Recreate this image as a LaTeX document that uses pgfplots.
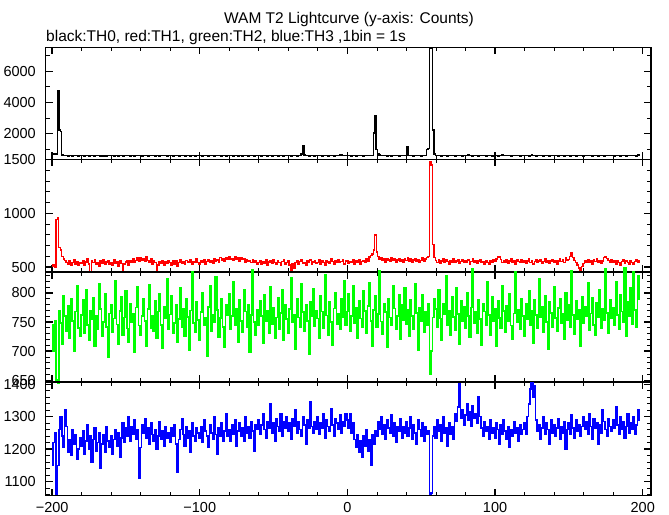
\documentclass[border=0pt]{standalone}
\usepackage{fontspec}
\setmainfont{Liberation Sans}
\usepackage{pgfplots}
\usepackage{pgfplotstable}
\pgfplotsset{compat=1.18}
\definecolor{cR}{RGB}{255,0,0}
\definecolor{cG}{RGB}{0,255,0}
\definecolor{cB}{RGB}{0,0,255}

% TH0 (black), bins -200 .. 198
\pgfplotstableread[row sep=\\, header=false]{
700\\720\\690\\705\\4750\\2250\\2150\\650\\600\\590\\595\\585\\600\\592\\588\\598\\590\\595\\585\\600\\
590\\595\\588\\600\\592\\585\\598\\590\\594\\587\\600\\592\\596\\589\\593\\560\\565\\585\\592\\596\\
590\\598\\585\\594\\600\\588\\592\\596\\585\\590\\598\\594\\610\\588\\596\\590\\585\\598\\592\\590\\
594\\588\\600\\590\\596\\585\\592\\598\\590\\594\\586\\600\\592\\588\\596\\590\\594\\598\\588\\592\\
600\\590\\585\\596\\592\\620\\588\\594\\590\\598\\585\\592\\596\\590\\588\\600\\594\\586\\592\\598\\
590\\595\\588\\600\\592\\596\\585\\590\\598\\594\\588\\592\\600\\615\\590\\585\\596\\592\\588\\594\\
598\\590\\594\\586\\600\\592\\588\\596\\590\\585\\594\\598\\590\\588\\596\\592\\600\\586\\594\\590\\
592\\598\\588\\594\\600\\590\\585\\596\\592\\588\\594\\598\\590\\586\\600\\592\\596\\588\\594\\620\\
590\\596\\588\\594\\600\\592\\586\\598\\590\\700\\1200\\640\\600\\594\\588\\596\\590\\598\\586\\594\\
600\\590\\596\\588\\594\\598\\590\\586\\592\\600\\594\\588\\596\\590\\598\\640\\630\\600\\592\\596\\
590\\594\\598\\586\\600\\592\\588\\596\\590\\594\\598\\588\\592\\600\\596\\590\\594\\610\\2050\\3150\\
1000\\700\\640\\600\\594\\590\\598\\586\\592\\596\\588\\594\\600\\590\\596\\588\\592\\598\\590\\594\\
596\\1150\\610\\592\\598\\588\\594\\600\\590\\596\\588\\592\\598\\620\\1000\\1050\\7450\\7500\\2250\\700\\
610\\596\\590\\598\\588\\594\\600\\592\\586\\596\\590\\598\\594\\588\\600\\592\\596\\590\\586\\594\\
598\\590\\640\\600\\594\\588\\596\\592\\600\\586\\594\\598\\590\\596\\588\\600\\592\\594\\586\\598\\
590\\596\\588\\594\\600\\660\\610\\592\\598\\590\\594\\588\\596\\600\\590\\594\\598\\586\\592\\596\\
600\\590\\594\\588\\596\\640\\598\\590\\586\\594\\600\\592\\596\\588\\594\\590\\598\\586\\592\\596\\
590\\594\\598\\586\\600\\592\\596\\588\\594\\590\\598\\586\\592\\600\\594\\588\\596\\590\\598\\594\\
586\\592\\596\\600\\590\\594\\588\\598\\592\\596\\586\\594\\600\\590\\588\\596\\592\\598\\590\\594\\
596\\588\\594\\600\\592\\586\\598\\590\\594\\588\\596\\600\\592\\590\\594\\598\\586\\640\\600\\
}\tabA

% TH1 (red)
\pgfplotstableread[row sep=\\, header=false]{
505\\520\\498\\940\\960\\680\\660\\600\\575\\560\\545\\530\\555\\520\\540\\565\\528\\550\\515\\545\\
535\\560\\520\\548\\575\\530\\452\\555\\540\\568\\525\\545\\505\\558\\537\\570\\522\\548\\560\\530\\
545\\520\\565\\538\\552\\510\\560\\535\\452\\528\\548\\562\\518\\555\\540\\580\\545\\560\\585\\555\\
590\\565\\575\\550\\600\\560\\545\\578\\530\\555\\540\\455\\520\\550\\538\\562\\515\\548\\535\\558\\
542\\520\\560\\530\\555\\505\\545\\568\\535\\550\\525\\560\\540\\548\\565\\530\\552\\540\\575\\545\\
530\\558\\540\\565\\525\\550\\572\\545\\560\\538\\580\\555\\565\\548\\590\\560\\575\\552\\585\\568\\
595\\570\\580\\560\\600\\575\\585\\555\\590\\568\\578\\545\\570\\555\\560\\540\\565\\548\\555\\530\\
545\\560\\525\\550\\538\\565\\520\\548\\555\\535\\570\\542\\528\\558\\545\\515\\550\\565\\530\\545\\
555\\520\\456\\530\\490\\545\\560\\525\\550\\570\\535\\545\\520\\558\\540\\565\\530\\548\\555\\538\\
545\\570\\530\\555\\540\\520\\562\\548\\535\\575\\550\\525\\558\\545\\570\\540\\552\\565\\530\\555\\
560\\535\\550\\545\\570\\530\\555\\540\\565\\525\\550\\560\\540\\575\\555\\595\\610\\620\\660\\800\\
640\\600\\570\\585\\560\\575\\545\\580\\565\\550\\590\\560\\575\\548\\565\\580\\555\\570\\545\\575\\
560\\590\\550\\575\\540\\565\\580\\555\\570\\545\\560\\585\\555\\575\\590\\600\\1480\\1450\\710\\590\\
560\\545\\570\\535\\555\\580\\540\\565\\550\\530\\560\\545\\575\\540\\555\\565\\535\\550\\570\\545\\
555\\540\\565\\530\\550\\575\\545\\560\\535\\555\\570\\540\\550\\525\\560\\545\\530\\555\\540\\565\\
550\\575\\600\\595\\570\\545\\560\\540\\565\\535\\555\\580\\545\\560\\530\\570\\550\\540\\565\\548\\
560\\535\\555\\575\\545\\560\\530\\550\\570\\540\\555\\565\\535\\550\\575\\545\\560\\538\\555\\570\\
545\\560\\530\\555\\575\\550\\565\\540\\585\\560\\570\\600\\630\\590\\560\\540\\520\\490\\452\\505\\
535\\560\\545\\570\\540\\555\\530\\565\\550\\575\\545\\560\\535\\555\\590\\600\\580\\560\\545\\565\\
540\\555\\530\\560\\545\\520\\550\\565\\535\\555\\540\\525\\560\\545\\530\\550\\565\\540\\555\\
}\tabB

% TH2 (green)
\pgfplotstableread[row sep=\\, header=false]{
745\\700\\752\\650\\645\\770\\748\\712\\795\\760\\735\\778\\722\\790\\752\\700\\768\\812\\740\\725\\
762\\788\\730\\805\\745\\718\\770\\755\\792\\708\\760\\738\\815\\772\\726\\750\\798\\741\\690\\765\\
780\\733\\756\\821\\746\\712\\769\\794\\727\\758\\803\\739\\716\\782\\750\\765\\698\\775\\811\\744\\
728\\760\\790\\752\\709\\772\\814\\740\\761\\735\\786\\722\\768\\799\\745\\705\\777\\757\\824\\738\\
763\\795\\731\\748\\780\\715\\755\\808\\742\\773\\726\\790\\759\\702\\770\\836\\748\\733\\785\\754\\
719\\767\\801\\744\\758\\692\\776\\812\\735\\763\\749\\828\\771\\724\\757\\790\\741\\707\\780\\762\\
798\\737\\760\\819\\745\\773\\716\\788\\752\\732\\805\\768\\741\\779\\699\\762\\840\\750\\727\\771\\
745\\786\\760\\713\\797\\752\\769\\731\\810\\746\\775\\722\\758\\791\\738\\766\\806\\718\\780\\755\\
730\\772\\826\\749\\763\\704\\790\\758\\741\\815\\767\\735\\779\\752\\694\\785\\760\\807\\743\\770\\
756\\722\\795\\768\\740\\832\\761\\727\\784\\750\\711\\773\\800\\746\\765\\737\\790\\758\\821\\744\\
768\\799\\735\\760\\812\\748\\775\\723\\787\\756\\741\\803\\769\\730\\778\\817\\752\\709\\771\\795\\
742\\764\\838\\751\\729\\782\\767\\706\\790\\758\\744\\813\\773\\737\\760\\796\\721\\779\\754\\808\\
747\\771\\725\\789\\760\\738\\815\\766\\701\\775\\752\\796\\733\\768\\744\\782\\660\\700\\758\\790\\
772\\741\\805\\756\\718\\781\\763\\830\\745\\770\\727\\793\\759\\736\\808\\764\\712\\786\\752\\777\\
739\\801\\760\\724\\775\\842\\748\\767\\731\\789\\755\\710\\782\\768\\745\\819\\762\\728\\794\\751\\
773\\708\\786\\757\\740\\812\\769\\733\\778\\752\\799\\744\\721\\765\\837\\750\\771\\738\\790\\760\\
726\\781\\755\\803\\745\\769\\714\\788\\762\\740\\825\\758\\776\\732\\795\\750\\703\\784\\766\\742\\
811\\757\\735\\774\\790\\748\\764\\720\\800\\753\\779\\741\\838\\762\\729\\786\\755\\771\\709\\794\\
748\\776\\760\\817\\736\\765\\792\\745\\728\\783\\758\\806\\740\\772\\753\\841\\766\\731\\789\\757\\
775\\744\\820\\762\\738\\797\\768\\750\\843\\725\\784\\760\\809\\747\\836\\771\\742\\830\\790\\
}\tabC

% TH3 (blue)
\pgfplotstableread[row sep=\\, header=false]{
1150\\1220\\1250\\1060\\1150\\1260\\1300\\1240\\1205\\1320\\1270\\1190\\1230\\1180\\1260\\1215\\1245\\1170\\1200\\1235\\
1210\\1255\\1185\\1225\\1275\\1200\\1240\\1160\\1230\\1265\\1195\\1220\\1250\\1140\\1215\\1245\\1190\\1270\\1225\\1205\\
1240\\1185\\1230\\1260\\1210\\1250\\1175\\1235\\1280\\1220\\1265\\1240\\1300\\1225\\1270\\1245\\1290\\1230\\1260\\1110\\
1205\\1275\\1250\\1295\\1235\\1265\\1215\\1280\\1245\\1225\\1260\\1200\\1240\\1285\\1230\\1255\\1210\\1270\\1235\\1250\\
1220\\1265\\1240\\1275\\1215\\1130\\1230\\1260\\1295\\1245\\1210\\1270\\1235\\1255\\1190\\1280\\1240\\1225\\1265\\1250\\
1235\\1270\\1220\\1290\\1255\\1240\\1205\\1275\\1250\\1230\\1300\\1245\\1185\\1265\\1240\\1280\\1225\\1255\\1310\\1240\\
1260\\1225\\1275\\1245\\1290\\1210\\1255\\1280\\1240\\1265\\1225\\1300\\1250\\1270\\1235\\1285\\1255\\1195\\1275\\1260\\
1290\\1245\\1275\\1310\\1260\\1235\\1285\\1265\\1340\\1250\\1280\\1225\\1295\\1270\\1255\\1310\\1240\\1285\\1265\\1300\\
1255\\1280\\1230\\1295\\1270\\1320\\1250\\1285\\1260\\1240\\1300\\1275\\1215\\1290\\1265\\1345\\1270\\1250\\1285\\1260\\
1300\\1245\\1280\\1265\\1310\\1235\\1290\\1270\\1255\\1325\\1275\\1240\\1295\\1280\\1260\\1305\\1250\\1285\\1270\\1310\\
1290\\1265\\1310\\1250\\1280\\1230\\1205\\1245\\1190\\1225\\1175\\1240\\1210\\1260\\1195\\1230\\1150\\1245\\1215\\1255\\
1240\\1285\\1260\\1300\\1245\\1275\\1230\\1290\\1265\\1250\\1305\\1240\\1280\\1220\\1270\\1255\\1295\\1235\\1270\\1250\\
1285\\1240\\1265\\1300\\1230\\1275\\1250\\1215\\1290\\1260\\1240\\1280\\1225\\1270\\1245\\1255\\1060\\1065\\1240\\1270\\
1235\\1290\\1255\\1275\\1225\\1300\\1250\\1265\\1210\\1280\\1245\\1270\\1230\\1310\\1285\\1330\\1400\\1295\\1320\\1275\\
1305\\1340\\1290\\1315\\1270\\1335\\1295\\1310\\1280\\1360\\1300\\1265\\1240\\1285\\1255\\1270\\1230\\1290\\1250\\1265\\
1235\\1280\\1260\\1215\\1275\\1245\\1290\\1255\\1230\\1270\\1205\\1260\\1240\\1285\\1250\\1265\\1225\\1275\\1245\\1260\\
1280\\1245\\1300\\1340\\1385\\1405\\1360\\1395\\1290\\1255\\1275\\1230\\1265\\1300\\1245\\1280\\1260\\1215\\1290\\1250\\
1275\\1240\\1265\\1295\\1230\\1270\\1250\\1285\\1200\\1260\\1280\\1245\\1305\\1265\\1235\\1290\\1255\\1275\\1240\\1270\\
1300\\1260\\1285\\1245\\1310\\1270\\1230\\1295\\1265\\1280\\1215\\1275\\1250\\1320\\1285\\1260\\1240\\1295\\1270\\1255\\
1290\\1265\\1330\\1275\\1245\\1300\\1260\\1285\\1235\\1270\\1310\\1250\\1280\\1260\\1300\\1245\\1275\\1320\\1290\\
}\tabD

\pgfplotsset{
  panel/.style={
    scale only axis, width=605.5bp, anchor=south west,
    xmin=-204.5, xmax=205.6,
    xtick={-200,-100,0,100,200},
    minor xtick={-200,-180,...,200},
    tick align=inside, xtick pos=both, ytick pos=both,
    major tick length=7bp, minor tick length=4bp,
    major tick style={line width=1.4bp, black},
    minor tick style={line width=0.9bp, black},
    axis line style={line width=1.2bp},
    clip=false, scaled ticks=false,
    /pgf/number format/assume math mode=true,
    /pgf/number format/1000 sep={},
    tick label style={font=\fontsize{14.5bp}{16bp}\selectfont},
    yticklabel style={inner sep=0pt, xshift=-9.5bp},
    xticklabel style={inner sep=0pt, yshift=-7bp},
  },
  lc/.style={const plot mark mid, no marks, line join=miter},
}

\begin{document}
\begin{tikzpicture}
\useasboundingbox (0,0) rectangle (669bp,515bp);

\node[anchor=base, font=\fontsize{15.5bp}{18bp}\selectfont, inner sep=0pt] at (349bp,491.5bp) {WAM T2 Lightcurve (y-axis: Counts)};
\node[anchor=base west, font=\fontsize{15.5bp}{18bp}\selectfont, inner sep=0pt] at (46bp,473.5bp) {black:TH0, red:TH1, green:TH2, blue:TH3 ,1bin = 1s};

% Panel 1 : TH0
\begin{axis}[panel, at={(45.5bp,355.5bp)}, height=112bp,
  ymin=350, ymax=7520, ytick={2000,4000,6000}, minor ytick={1000,2000,...,7000},
  xticklabels={}]
\addplot[lc, black, line width=1.5bp] table[x expr=\coordindex-200, y index=0] {\tabA};
\end{axis}

% Panel 2 : TH1
\begin{axis}[panel, at={(45.5bp,243bp)}, height=112.5bp,
  ymin=454, ymax=1501, ytick={500,1000,1500}, minor ytick={500,600,...,1500},
  xticklabels={}]
\addplot[lc, cR, line width=1.4bp] table[x expr=\coordindex-200, y index=0] {\tabB};
\end{axis}

% Panel 3 : TH2
\begin{axis}[panel, at={(45.5bp,133bp)}, height=110bp,
  ymin=647, ymax=836, ytick={650,700,750,800}, minor ytick={650,660,...,830},
  xticklabels={}]
\addplot[lc, cG, line width=1.6bp] table[x expr=\coordindex-200, y index=0] {\tabC};
\end{axis}

% Panel 4 : TH3
\begin{axis}[panel, at={(45.5bp,19.5bp)}, height=113.5bp,
  ymin=1057, ymax=1407, ytick={1100,1200,1300,1400}, minor ytick={1060,1080,...,1400},
  xticklabels={−200,−100,0,100,200}]
\addplot[lc, cB, line width=1.6bp] table[x expr=\coordindex-200, y index=0] {\tabD};
\end{axis}
\end{tikzpicture}
\end{document}
